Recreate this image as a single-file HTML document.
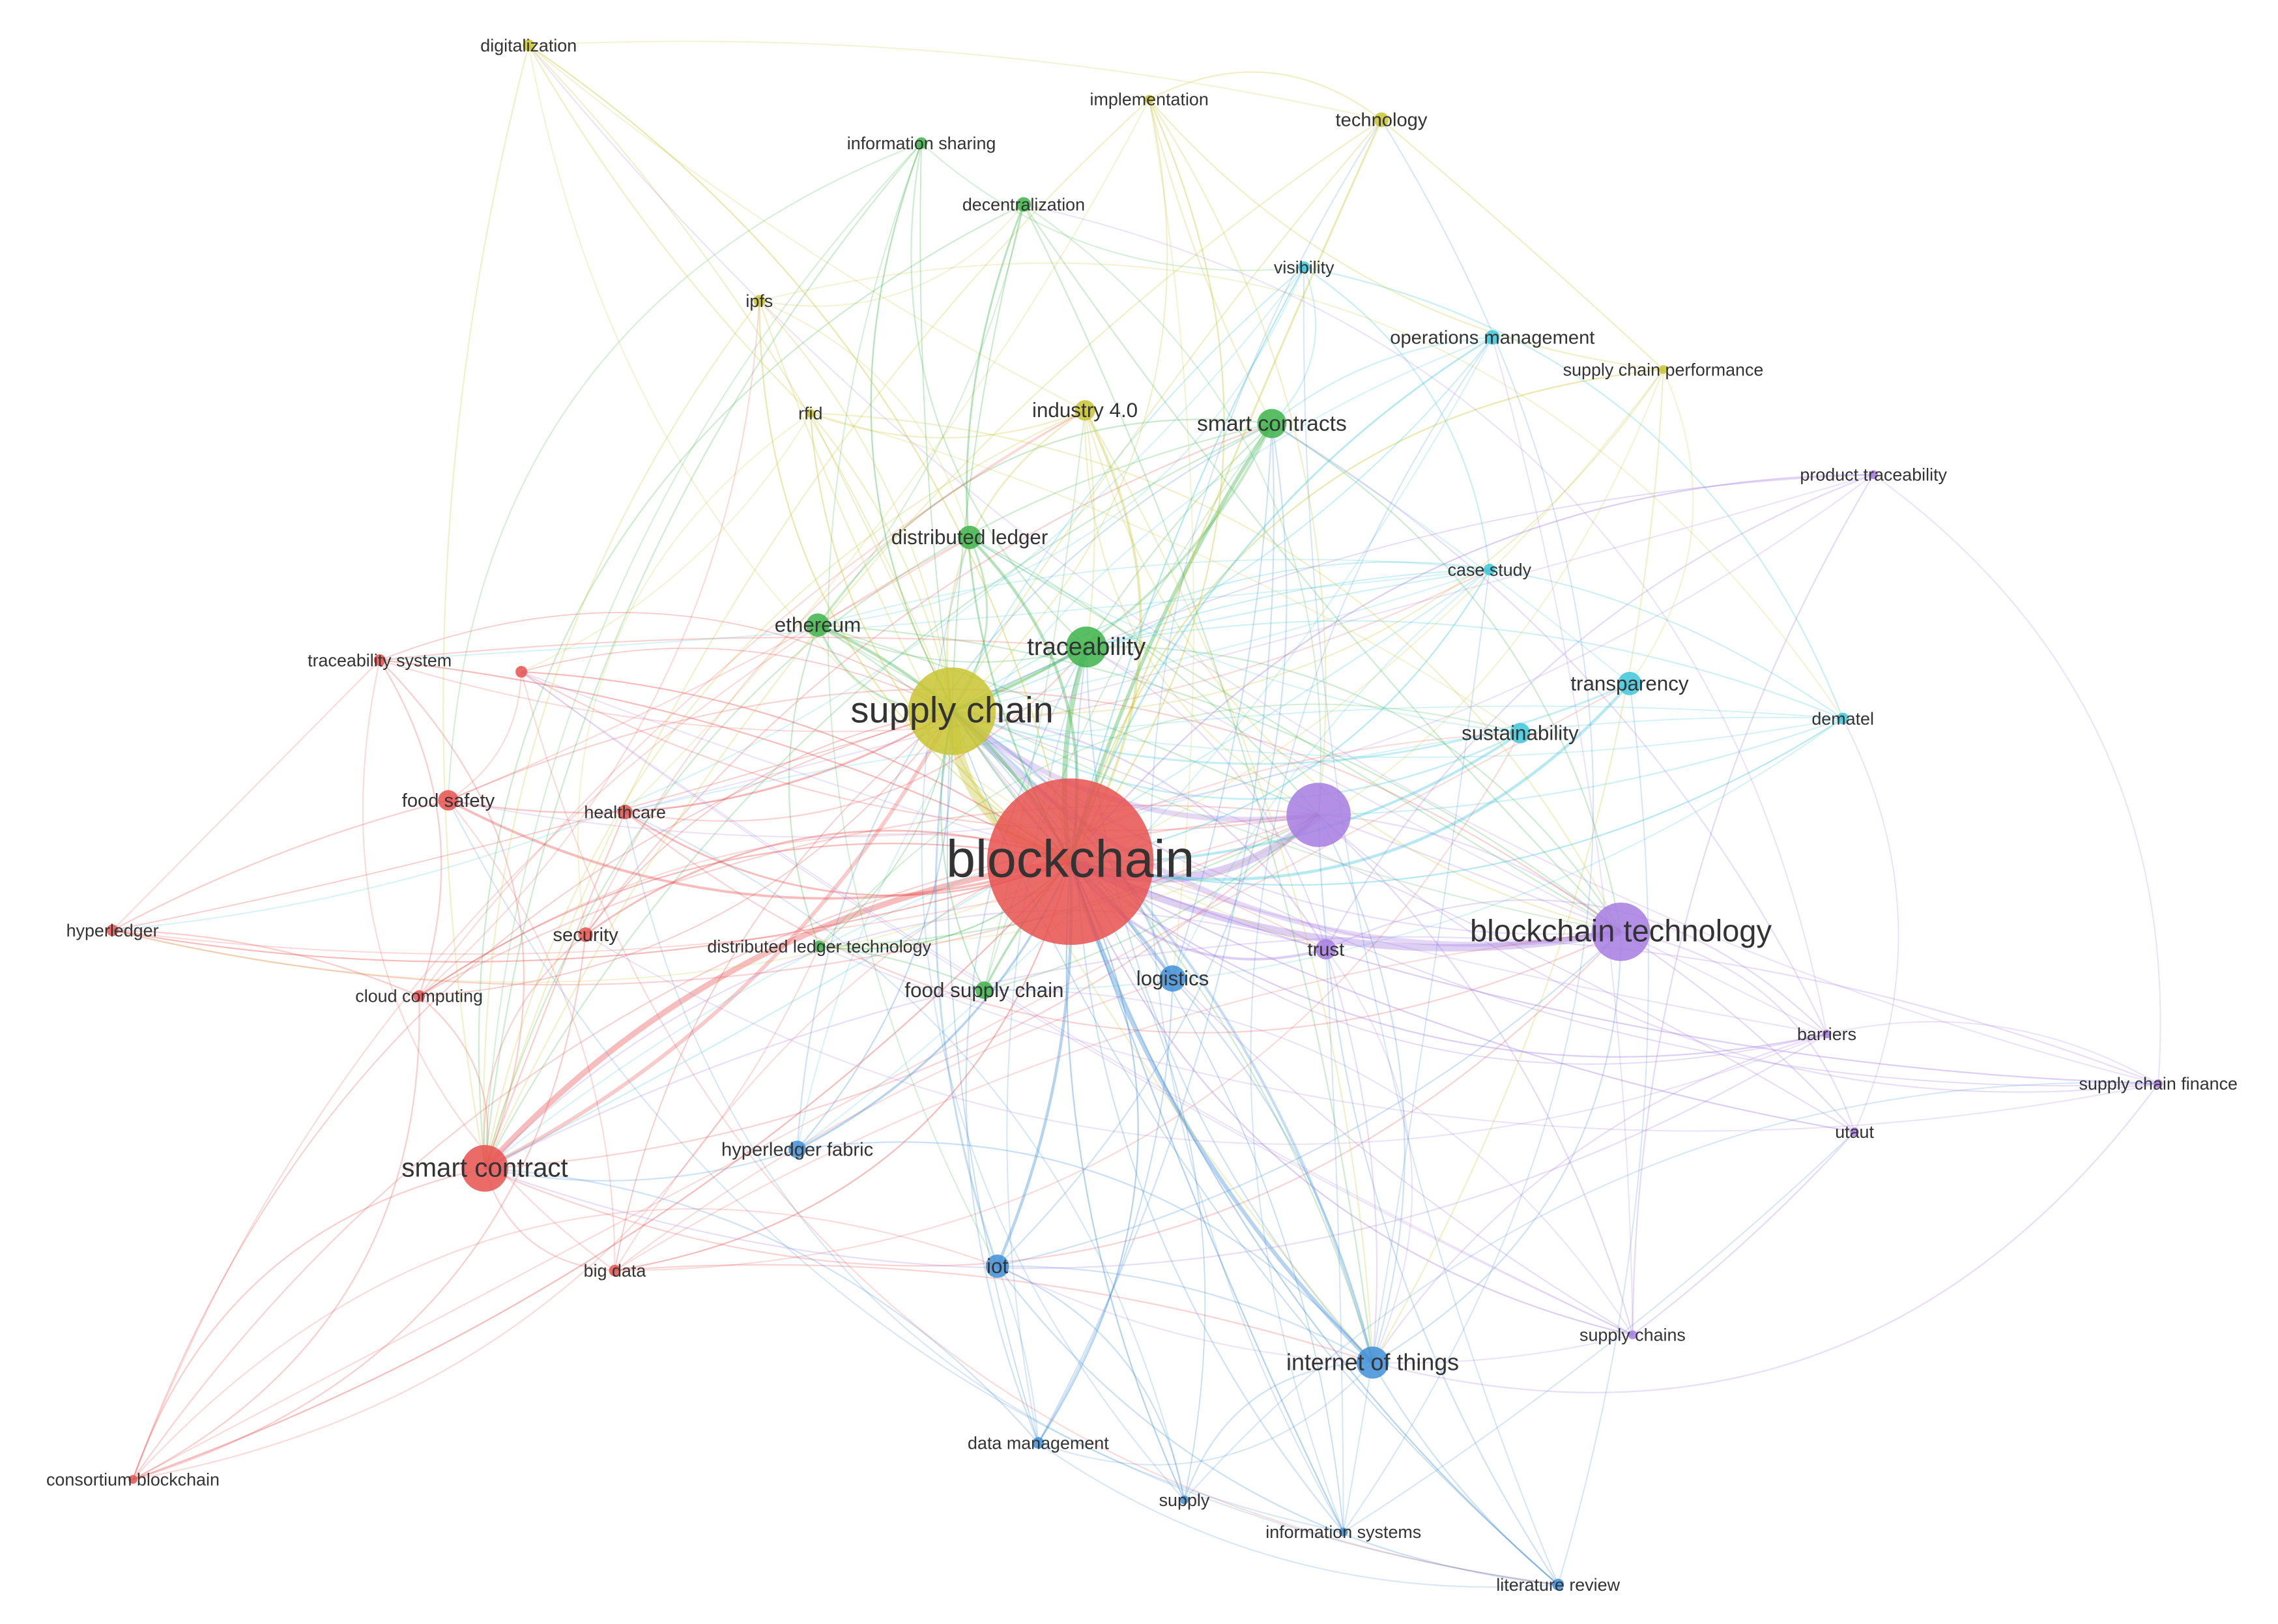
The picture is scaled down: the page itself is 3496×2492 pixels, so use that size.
<!DOCTYPE html>
<html><head><meta charset="utf-8">
<style>
html,body{margin:0;padding:0;background:#fff;}
svg{display:block;}
text{font-family:"Liberation Sans",sans-serif;fill:#333;text-anchor:middle;dominant-baseline:middle;}
</style></head>
<body>
<svg id="s" width="3496" height="2492" viewBox="0 0 1560 1112" xmlns="http://www.w3.org/2000/svg">
<g id="edges"></g><g id="nodes"></g><g id="labels"></g>
</svg>
<script>
var C={r:"#e8514f",g:"#3db449",b:"#3f8fd8",y:"#c9c431",p:"#a67de2",c:"#3ec6da"};
var N=[
["blockchain",733,590,57,"r",36],
["supply chain",652,487,30,"y",25],
["",903,558,22,"p",0],
["blockchain technology",1110,638,20,"p",21],
["traceability",744,443,14,"g",17],
["smart contracts",871,290,10,"g",15],
["smart contract",332,800,16,"r",18],
["internet of things",940,933,11,"b",16],
["logistics",803,670,9,"b",14],
["distributed ledger",664,368,8,"g",14],
["ethereum",560,428,8,"g",14],
["industry 4.0",743,281,7,"y",14],
["trust",908,650,7,"p",13],
["transparency",1116,468,8,"c",14],
["sustainability",1041,502,7,"c",14],
["food safety",307,548,7,"r",13],
["iot",683,867,8,"b",14],
["food supply chain",674,678,6,"g",14],
["hyperledger fabric",546,787,6,"b",13],
["security",401,640,5,"r",13],
["healthcare",428,556,5,"r",12],
["cloud computing",287,682,4,"r",12],
["big data",421,870,4,"r",12],
["hyperledger",77,637,4,"r",12],
["consortium blockchain",91,1013,3,"r",12],
["traceability system",260,452,4,"r",12],
["",357,460,4,"r",0],
["distributed ledger technology",561,648,4,"g",12],
["data management",711,988,4,"b",12],
["supply",811,1027,3,"b",12],
["information systems",920,1049,3,"b",12],
["literature review",1067,1085,4,"b",12],
["supply chains",1118,914,3,"p",12],
["utaut",1270,775,3,"p",12],
["barriers",1251,708,3,"p",12],
["supply chain finance",1478,742,3,"p",12],
["dematel",1262,492,4,"c",12],
["product traceability",1283,325,3,"p",12],
["case study",1020,390,4,"c",12],
["supply chain performance",1139,253,3,"y",12],
["operations management",1022,231,5,"c",13],
["visibility",893,183,4,"c",12],
["technology",946,82,5,"y",13],
["implementation",787,68,3,"y",12],
["information sharing",631,98,4,"g",12],
["decentralization",701,140,5,"g",12],
["ipfs",520,206,4,"y",12],
["rfid",555,283,3,"y",12],
["digitalization",362,31,4,"y",12]
];
var seed=7;function rnd(){seed=(seed*16807)%2147483647;return seed/2147483647;}
var ns="http://www.w3.org/2000/svg";
var E=document.getElementById("edges"),G=document.getElementById("nodes"),L=document.getElementById("labels");
function edge(a,b,w,op){
 var A=N[a],B=N[b];var dx=B[1]-A[1],dy=B[2]-A[2];var k=(rnd()*0.7-0.35);
 var cx=(A[1]+B[1])/2-dy*k,cy=(A[2]+B[2])/2+dx*k;
 var p=document.createElementNS(ns,"path");
 p.setAttribute("d","M"+A[1]+","+A[2]+" Q"+cx+","+cy+" "+B[1]+","+B[2]);
 p.setAttribute("fill","none");p.setAttribute("stroke",C[(A[3]>=B[3]?B:A)[4]]);
 p.setAttribute("stroke-width",w);p.setAttribute("stroke-opacity",op);E.appendChild(p);
}
var hubs=[0,1,2,3,4,5,6,7];
for(var i=1;i<N.length;i++){
 edge(0,i,Math.max(1,N[i][3]/4),0.38);
 if(i!=1)edge(1,i,Math.max(0.8,N[i][3]/6),0.3);
 for(var j=2;j<hubs.length;j++){if(hubs[j]!=i&&rnd()<0.3)edge(hubs[j],i,1,0.25);}
 for(var t=0;t<2;t++){var j2=8+Math.floor(rnd()*(N.length-8));if(j2!=i)edge(i,j2,0.9,0.22);}
 for(var q=i+1;q<N.length;q++){if(N[q][4]==N[i][4]&&rnd()<0.22)edge(i,q,1,0.28);}
}
N.forEach(function(n){
 var c=document.createElementNS(ns,"circle");c.setAttribute("cx",n[1]);c.setAttribute("cy",n[2]);c.setAttribute("r",n[3]);
 c.setAttribute("fill",C[n[4]]);c.setAttribute("fill-opacity",0.85);G.appendChild(c);
 if(n[0]){var t=document.createElementNS(ns,"text");t.setAttribute("x",n[1]);t.setAttribute("y",n[2]+1);
 t.setAttribute("font-size",n[5]);t.textContent=n[0];L.appendChild(t);}
});
</script>
</body></html>
